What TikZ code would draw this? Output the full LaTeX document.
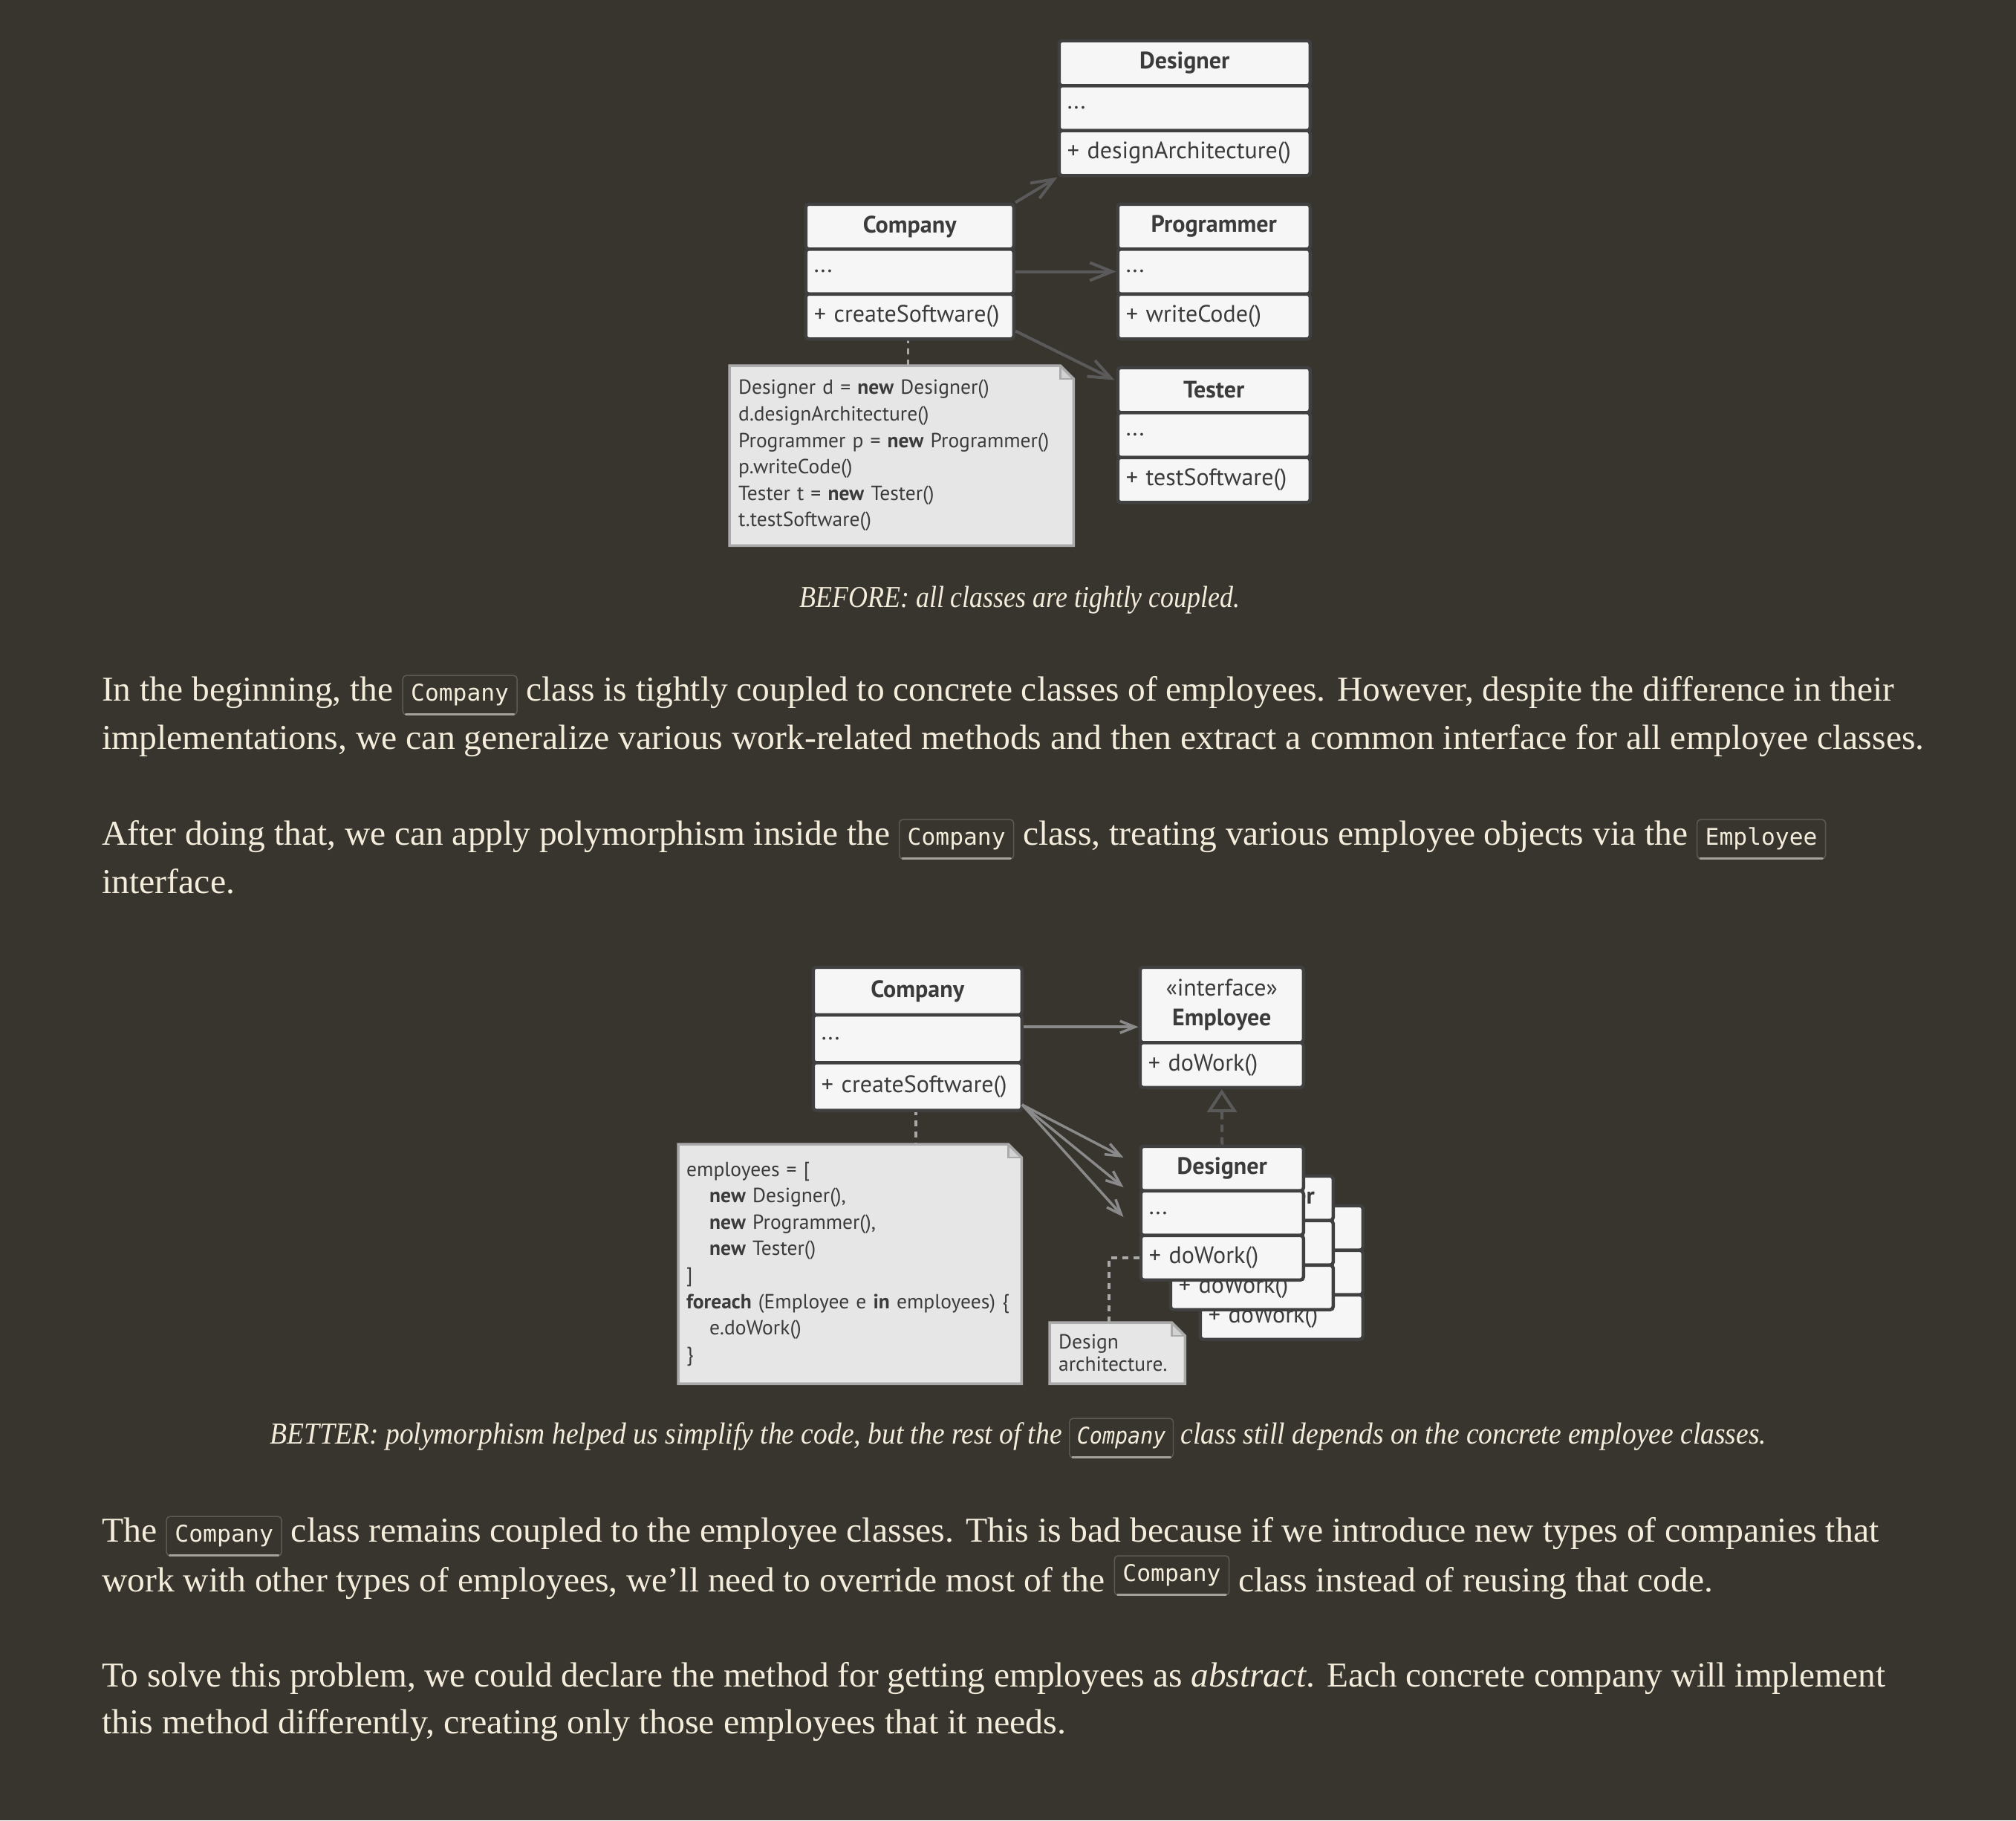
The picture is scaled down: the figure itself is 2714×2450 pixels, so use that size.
\documentclass[tikz,border=0pt]{standalone}
\usepackage{fontspec}
\usepackage{graphicx}
\setmainfont{Liberation Serif}
\newfontfamily\umlfont{PT Sans}
\newfontfamily\codefont{DejaVu Sans Mono}
\usetikzlibrary{arrows.meta,calc}
\definecolor{bg}{HTML}{38342E}
\definecolor{cream}{HTML}{F4EDDC}
\definecolor{boxfill}{HTML}{F6F6F6}
\definecolor{boxline}{HTML}{404040}
\definecolor{umltext}{HTML}{3B3B3B}
\definecolor{notefill}{HTML}{E6E6E6}
\definecolor{noteline}{HTML}{AAAAAA}
\definecolor{notefold}{HTML}{D2D2D2}
\definecolor{arrA}{HTML}{5A5A5A}
\definecolor{arrB}{HTML}{8A8A8A}
\definecolor{realz}{HTML}{5A5A5A}
\definecolor{dashc}{HTML}{A8A8A8}
\definecolor{codeline}{HTML}{5E5A53}
\definecolor{codeshade}{HTML}{A3A19C}
\tikzset{
  umlrow/.style={draw=boxline, line width=4.5pt, fill=boxfill, rounded corners=4pt,
    inner xsep=11pt, inner ysep=0pt, anchor=north west, align=left, text=umltext,
    font=\umlfont\fontsize{32}{38}\selectfont},
  umltitle/.style={umlrow, align=center, font=\umlfont\bfseries\fontsize{32}{38}\selectfont},
  notebox/.style={fill=notefill, draw=none, anchor=north west, align=left, text=umltext,
    inner xsep=12pt, inner ysep=0pt, font=\umlfont\fontsize{27.5}{35.6}\selectfont},
  noteborder/.style={draw=noteline, line width=3.5pt, line join=miter},
  noteconn/.style={draw=dashc, line width=3.5pt, dash pattern=on 8pt off 7pt},
  assocA/.style={draw=arrA, line width=4pt, -{Straight Barb[length=30pt,width=24pt]}},
  assocB/.style={draw=arrB, line width=3.5pt, -{Straight Barb[length=20pt,width=16pt]}},
  realize/.style={draw=realz, line width=4pt, dash pattern=on 10pt off 7pt,
    -{Triangle[open, length=31pt, width=40pt]}},
  codebox/.style={draw=codeline, line width=1.5pt, rounded corners=5pt, fill=bg, text=cream,
    inner xsep=11pt, inner ysep=10pt, text height=24pt, text depth=9pt, anchor=base,
    font=\codefont\fontsize{31}{36}\selectfont},
  bodyline/.style={anchor=base west, inner sep=0pt, text=cream, font=\fontsize{47}{56}\selectfont},
  captline/.style={anchor=base, inner sep=0pt, text=cream, font=\itshape\fontsize{41}{48}\selectfont}
}
\newcommand\codebx[1]{\tikz[baseline=(cbn.base)]{\node[codebox] (cbn) at (0,0) {#1};
  \draw[draw=codeshade, line width=3pt, line cap=round] ([xshift=5pt,yshift=1.5pt]cbn.south west) -- ([xshift=-5pt,yshift=1.5pt]cbn.south east);}}
\newcommand\notedraw[1]{%
  \fill[bg] ($(#1.north east)+(-18,0)$) -- (#1.north east) -- ($(#1.north east)+(0,18)$) -- cycle;
  \fill[notefold] ($(#1.north east)+(-18,0)$) -- ($(#1.north east)+(-18,18)$) -- ($(#1.north east)+(0,18)$) -- cycle;
  \draw[noteborder] (#1.north west) -- ($(#1.north east)+(-18,0)$) -- ($(#1.north east)+(0,18)$) -- (#1.south east) -- (#1.south west) -- cycle;
  \draw[noteborder, line width=2.5pt] ($(#1.north east)+(-18,0)$) -- ($(#1.north east)+(-18,18)$) -- ($(#1.north east)+(0,18)$);}
\begin{document}
\begin{tikzpicture}[x=1pt,y=-1pt]
\useasboundingbox (0,0) rectangle (2714,2450);
\fill[bg] (0,0) rectangle (2714,2450);

% ---------------- Diagram 1 ----------------
\draw[noteconn] (1222.5,453.5) coordinate (c1a) -- (1222.5,492) coordinate (c1b);
\node[umltitle, text width=316pt, minimum height=60.5pt] (des1t) at (1423.5,52.5) {Designer};
\node[umlrow, text width=316pt, minimum height=60.5pt] (des1a) at (1423.5,113) {...};
\node[umlrow, text width=316pt, minimum height=60.5pt] (des1m) at (1423.5,173.5) {+ designArchitecture()};

\node[umltitle, text width=258pt, minimum height=60.5pt] (comp1t) at (1082.5,272.5) {Company};
\node[umlrow, text width=258pt, minimum height=60.5pt] (comp1a) at (1082.5,333) {...};
\node[umlrow, text width=258pt, minimum height=60.5pt] (comp1m) at (1082.5,393.5) {+ createSoftware()};

\node[umltitle, text width=237pt, minimum height=60.5pt] (prog1t) at (1502.5,272.5) {Programmer};
\node[umlrow, text width=237pt, minimum height=60.5pt] (prog1a) at (1502.5,333) {...};
\node[umlrow, text width=237pt, minimum height=60.5pt] (prog1m) at (1502.5,393.5) {+ writeCode()};

\node[umltitle, text width=237pt, minimum height=60.5pt] (tes1t) at (1502.5,492.5) {Tester};
\node[umlrow, text width=237pt, minimum height=60.5pt] (tes1a) at (1502.5,553) {...};
\node[umlrow, text width=237pt, minimum height=60.5pt] (tes1m) at (1502.5,613.5) {+ testSoftware()};

\draw[assocA] (comp1t.north east) -- (des1m.south west);
\draw[assocA] (comp1a.east) -- (prog1a.west);
\draw[assocA] ($(comp1m.south east)+(0,-13)$) -- ($(tes1t.north west)+(-2,19)$);

\node[notebox, text width=439pt, minimum height=242pt] (note1) at (982,492) {%
Designer d = \textbf{new} Designer()\\
d.designArchitecture()\\
Programmer p = \textbf{new} Programmer()\\
p.writeCode()\\
Tester t = \textbf{new} Tester()\\
t.testSoftware()};
\notedraw{note1}

\node[captline] (cap1) at (1373,817) {\resizebox{593pt}{\height}{BEFORE: all classes are tightly coupled.}};

% ---------------- Paragraphs 1-2 ----------------
\node[bodyline] (p1l1) at (137,943) {\resizebox{2413pt}{\height}{In the beginning, the \codebx{Company} class is tightly coupled to concrete classes of employees. However, despite the difference in their}};
\node[bodyline] (p1l2) at (137,1008) {\resizebox{2453pt}{\height}{implementations, we can generalize various work-related methods and then extract a common interface for all employee classes.}};
\node[bodyline] (p2l1) at (137,1137) {\resizebox{2321pt}{\height}{After doing that, we can apply polymorphism inside the \codebx{Company} class, treating various employee objects via the \codebx{Employee}}};
\node[bodyline] (p2l2) at (137,1202) {\resizebox{179pt}{\height}{interface.}};

% ---------------- Diagram 2 ----------------
\draw[noteconn] (1233,1492.5) coordinate (c2a) -- (1233,1540) coordinate (c2b);
\node[umltitle, text width=259pt, minimum height=64.3pt] (comp2t) at (1092.5,1299.5) {Company};
\node[umlrow, text width=259pt, minimum height=64.3pt] (comp2a) at (1092.5,1363.8) {...};
\node[umlrow, text width=259pt, minimum height=64.3pt] (comp2m) at (1092.5,1428.1) {+ createSoftware()};

\node[umltitle, text width=198pt, minimum height=101.5pt, font=\umlfont\fontsize{32}{40}\selectfont] (emp2t) at (1532.5,1299.5) {«interface»\\\textbf{Employee}};
\node[umlrow, text width=198pt, minimum height=60.5pt] (emp2m) at (1532.5,1401) {+ doWork()};

\node[umltitle, text width=197pt, minimum height=60pt] (tes2t) at (1613.5,1620.5) {Tester};
\node[umlrow, text width=197pt, minimum height=60pt] (tes2a) at (1613.5,1680.5) {...};
\node[umlrow, text width=197pt, minimum height=60pt] (tes2m) at (1613.5,1740.5) {+ doWork()};

\node[umltitle, text width=197pt, minimum height=60pt] (prog2t) at (1573.5,1580.5) {Programmer};
\node[umlrow, text width=197pt, minimum height=60pt] (prog2a) at (1573.5,1640.5) {...};
\node[umlrow, text width=197pt, minimum height=60pt] (prog2m) at (1573.5,1700.5) {+ doWork()};

\node[umltitle, text width=197pt, minimum height=60pt] (des2t) at (1533.5,1540.5) {Designer};
\node[umlrow, text width=197pt, minimum height=60pt] (des2a) at (1533.5,1600.5) {...};
\node[umlrow, text width=197pt, minimum height=60pt] (des2m) at (1533.5,1660.5) {+ doWork()};

\draw[assocB] ($(comp2a.east)+(0,-16)$) coordinate (b1s) -- (emp2t.west |- b1s);
\coordinate (b2s) at ($(comp2m.south east)+(-2,-10)$);
\draw[assocB] (b2s) -- ($(des2t.north west)+(-21,17.5)$);
\draw[assocB] (b2s) -- ($(prog2t.north west)+(-61,17.5)$);
\draw[assocB] (b2s) -- ($(tes2t.north west)+(-101,17.5)$);
\draw[realize] (des2t.north) -- (emp2m.south);

\node[notebox, text width=440pt, minimum height=322pt, inner xsep=11pt] (note2) at (913,1540) {%
employees = [\\
\hspace*{31pt}\textbf{new} Designer(),\\
\hspace*{31pt}\textbf{new} Programmer(),\\
\hspace*{31pt}\textbf{new} Tester()\\
]\\
\textbf{foreach} (Employee e \textbf{in} employees) \{\\
\hspace*{31pt}e.doWork()\\
\}};
\notedraw{note2}

\node[notebox, text width=158pt, minimum height=82pt, font=\umlfont\fontsize{27.5}{30}\selectfont] (note3) at (1413,1780) {Design\\architecture.};
\coordinate (n3top) at ($(note3.north west)+(80,0)$);
\draw[noteconn] (des2m.west) -| (n3top);
\notedraw{note3}

\node[captline] (cap2) at (1371,1943) {\resizebox{2014pt}{\height}{BETTER: polymorphism helped us simplify the code, but the rest of the \codebx{Company} class still depends on the concrete employee classes.}};

% ---------------- Paragraphs 3-4 ----------------
\node[bodyline] (p3l1) at (137,2075) {\resizebox{2392pt}{\height}{The \codebx{Company} class remains coupled to the employee classes. This is bad because if we introduce new types of companies that}};
\node[bodyline] (p3l2) at (137,2142) {\resizebox{2169pt}{\height}{work with other types of employees, we’ll need to override most of the \raisebox{14pt}{\codebx{Company}} class instead of reusing that code.}};
\node[bodyline] (p4l1) at (137,2270) {\resizebox{2401pt}{\height}{To solve this problem, we could declare the method for getting employees as \textit{abstract}. Each concrete company will implement}};
\node[bodyline] (p4l2) at (137,2333) {\resizebox{1298pt}{\height}{this method differently, creating only those employees that it needs.}};
\end{tikzpicture}
\end{document}
